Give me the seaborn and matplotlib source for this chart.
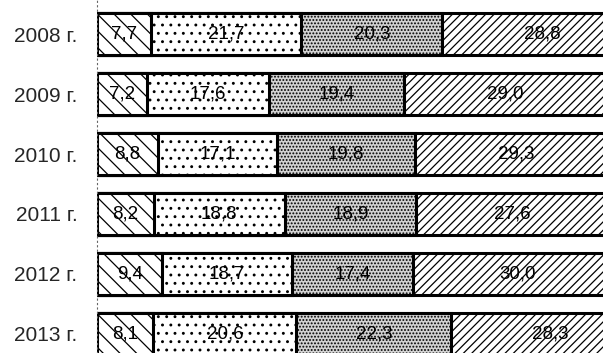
import numpy as np
import pandas as pd
import seaborn as sns
import matplotlib
matplotlib.use('Agg')
import matplotlib.pyplot as plt

# данные по годам (четыре части каждого столбика)
years = ['2008 г.', '2009 г.', '2010 г.', '2011 г.', '2012 г.', '2013 г.']
part1 = [7.7, 7.2, 8.8, 8.2, 9.4, 8.1]
part2 = [21.7, 17.6, 17.1, 18.8, 18.7, 20.6]
part3 = [20.3, 19.4, 19.8, 18.9, 17.4, 22.3]
part4 = [28.8, 29.0, 29.3, 27.6, 30.0, 28.3]

sns.set_style('white')
plt.rcParams['font.family'] = ['Liberation Sans', 'DejaVu Sans']
plt.rcParams['hatch.linewidth'] = 0.9

df = pd.DataFrame({'year': years, 'p1': part1, 'p2': part2, 'p3': part3, 'p4': part4})
df['c1'] = df['p1']
df['c2'] = df['c1'] + df['p2']
df['c3'] = df['c2'] + df['p3']
df['c4'] = df['c3'] + df['p4']

fig = plt.figure(figsize=(6.03, 3.53), dpi=100)
ax = fig.add_axes([97 / 603, 0, 1 - 97 / 603, 1])

styles = [
    ('c4', 'white', '////'),
    ('c3', '#d2d2d2', '.....'),
    ('c2', 'white', '..'),
    ('c1', 'white', '\\\\'),
]
for col, fc, hatch in styles:
    sns.barplot(data=df, x=col, y='year', orient='h', color=fc, saturation=1,
                edgecolor='black', linewidth=2.2, hatch=hatch, width=0.7, ax=ax)

# подписи значений
for i in range(len(years)):
    starts = [0, df['c1'][i], df['c2'][i], df['c3'][i]]
    vals = [part1[i], part2[i], part3[i], part4[i]]
    for s, v in zip(starts, vals):
        ax.text(s + v / 2, i, f'{v:.1f}'.replace('.', ','), ha='center', va='center',
                fontsize=13.5, color='black')

ax.set_xlim(0, 72.8)
ax.set_ylim(5.317, -0.567)
ax.set_xlabel('')
ax.set_ylabel('')
ax.set_xticks([])
ax.tick_params(axis='y', length=0, pad=14, labelsize=15)
for sp in ['top', 'right', 'bottom']:
    ax.spines[sp].set_visible(False)
ax.spines['left'].set_linestyle((0, (1, 3)))
ax.spines['left'].set_color('#666666')
ax.spines['left'].set_linewidth(0.8)

fig.savefig('out.png', dpi=100)
